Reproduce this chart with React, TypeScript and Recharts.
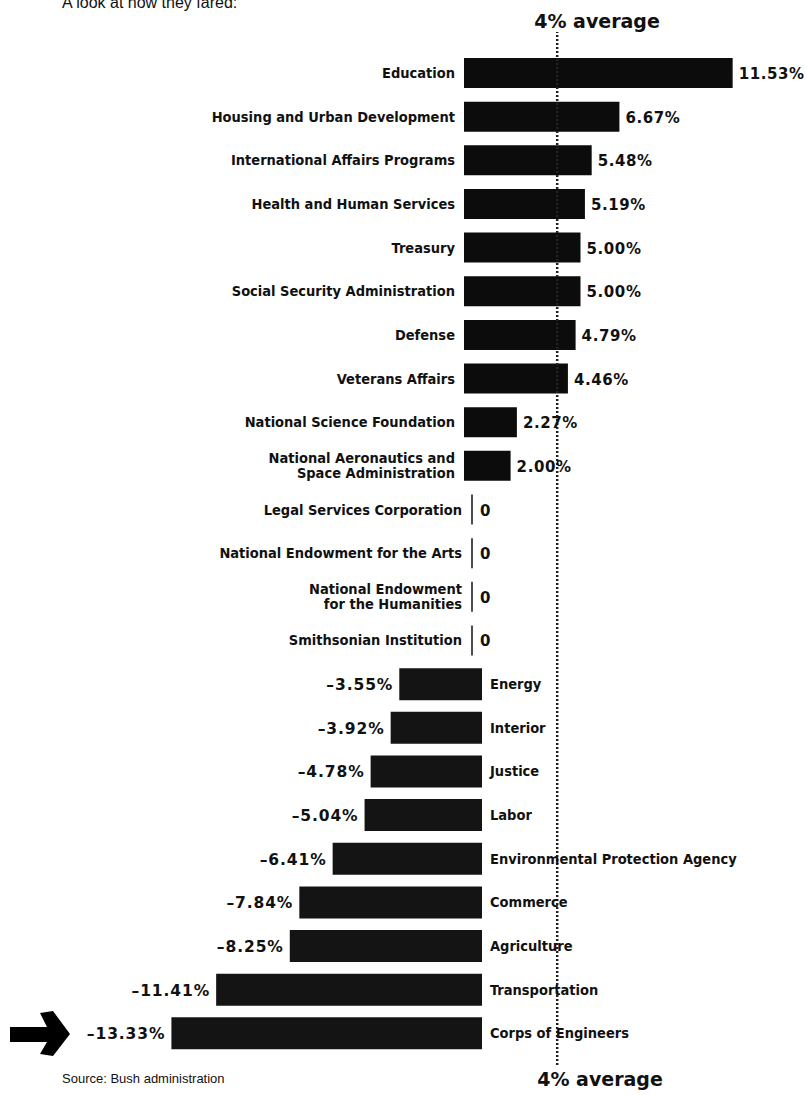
import React from "react"
import { BarChart, Bar, XAxis, YAxis, ReferenceLine, LabelList, Rectangle } from "recharts"

const categories = [
  "Education",
  "Housing and Urban Development",
  "International Affairs Programs",
  "Health and Human Services",
  "Treasury",
  "Social Security Administration",
  "Defense",
  "Veterans Affairs",
  "National Science Foundation",
  "National Aeronautics and\nSpace Administration",
  "Legal Services Corporation",
  "National Endowment for the Arts",
  "National Endowment\nfor the Humanities",
  "Smithsonian Institution",
  "Energy",
  "Interior",
  "Justice",
  "Labor",
  "Environmental Protection Agency",
  "Commerce",
  "Agriculture",
  "Transportation",
  "Corps of Engineers",
]

const changes = [
  11.53, 6.67, 5.48, 5.19, 5.0, 5.0, 4.79, 4.46, 2.27, 2.0,
  0, 0, 0, 0,
  -3.55, -3.92, -4.78, -5.04, -6.41, -7.84, -8.25, -11.41, -13.33,
]

const averageChange = 4

const rows = categories.map((name, i) => ({
  name,
  pos: changes[i] >= 0 ? changes[i] : null,
  neg: changes[i] < 0 ? changes[i] : null,
}))

const W = 807
const H = 1095
const PX_PER_PCT = 23.3
const ZERO_POS = 464 // positive bars grow from here
const ZERO_NEG = 482 // negative bars hang off here

const NAME_FONT = "'DejaVu Sans Condensed', 'DejaVu Sans', sans-serif"
const VALUE_FONT = "'DejaVu Sans', sans-serif"

const fmt = (v: number) =>
  v === 0 ? "0" : v > 0 ? `${v.toFixed(2)}%` : `\u2013${Math.abs(v).toFixed(2)}%`

function box(props: any) {
  const vb = props.viewBox || {}
  const x = Number(vb.x ?? props.x)
  const y = Number(vb.y ?? props.y)
  const w = Number(vb.width ?? props.width ?? 0)
  const h = Number(vb.height ?? props.height ?? 0)
  return { left: Math.min(x, x + w), right: Math.max(x, x + w), cy: y + h / 2 }
}

function NameLines({ x, cy, text, anchor }: { x: number; cy: number; text: string; anchor: "start" | "end" }) {
  const lines = text.split("\n")
  return (
    <text
      x={x}
      y={cy}
      textAnchor={anchor}
      fontFamily={NAME_FONT}
      fontStretch="condensed"
      fontWeight="bold"
      fontSize={14.5}
      fill="#111"
    >
      {lines.map((l, i) => (
        <tspan key={i} x={x} y={cy + (i - (lines.length - 1) / 2) * 15 + 5}>
          {l}
        </tspan>
      ))}
    </text>
  )
}

// zero-change rows: no bar, just a thin rule beside the zero line
function PosShape(props: any) {
  const v = props.payload?.pos
  if (v === 0) {
    const cy = props.y + props.height / 2
    return <line x1={props.x + 8} x2={props.x + 8} y1={cy - 15} y2={cy + 15} stroke="#111" strokeWidth={1.5} />
  }
  return <Rectangle {...props} />
}

function PosLabel(props: any) {
  const idx = categories.indexOf(props.value)
  if (idx < 0) return null
  const v = changes[idx]
  if (v < 0) return null
  const { left, right, cy } = box(props)
  if (!isFinite(left) || !isFinite(cy)) return null
  if (v === 0) {
    return (
      <g>
        <NameLines x={left - 2} cy={cy} text={props.value} anchor="end" />
        <text x={left + 16} y={cy + 6} fontFamily={VALUE_FONT} fontWeight="bold" fontSize={15} fill="#111">
          {fmt(v)}
        </text>
      </g>
    )
  }
  return (
    <g>
      <NameLines x={left - 9} cy={cy} text={props.value} anchor="end" />
      <text x={right + 6} y={cy + 6} fontFamily={VALUE_FONT} fontWeight="bold" fontSize={15} letterSpacing={0.6} fill="#111">
        {fmt(v)}
      </text>
    </g>
  )
}

function NegLabel(props: any) {
  const idx = categories.indexOf(props.value)
  if (idx < 0) return null
  const v = changes[idx]
  if (v >= 0) return null
  const { left, right, cy } = box(props)
  if (!isFinite(left) || !isFinite(cy)) return null
  return (
    <g>
      <text x={left - 6} y={cy + 6} textAnchor="end" fontFamily={VALUE_FONT} fontWeight="bold" fontSize={15.5} letterSpacing={0.9} fill="#111">
        {fmt(v)}
      </text>
      <NameLines x={right + 8} cy={cy} text={props.value} anchor="start" />
    </g>
  )
}

function AvgLabel(props: any) {
  const vb = props.viewBox || {}
  const x = Number(vb.x)
  return (
    <g fontFamily={VALUE_FONT} fontWeight="bold" fontSize={19} fill="#111">
      <text x={x - 23} y={28}>4% average</text>
      <text x={x - 20} y={1086}>4% average</text>
    </g>
  )
}

export default function App() {
  return (
    <div style={{ position: "absolute", left: 0, top: 0, width: W, height: H, background: "#fff" }}>
      <BarChart
        width={W}
        height={H}
        data={rows}
        layout="vertical"
        margin={{ top: 32, right: 0, bottom: 30, left: 0 }}
        barCategoryGap={13}
      >
        <XAxis xAxisId="p" type="number" hide allowDataOverflow domain={[-ZERO_POS / PX_PER_PCT, (W - ZERO_POS) / PX_PER_PCT]} />
        <XAxis xAxisId="n" type="number" hide allowDataOverflow domain={[-ZERO_NEG / PX_PER_PCT, (W - ZERO_NEG) / PX_PER_PCT]} />
        <YAxis yAxisId="p" type="category" dataKey="name" hide padding={{ top: 19, bottom: 10 }} />
        <YAxis yAxisId="n" type="category" dataKey="name" hide padding={{ top: 19, bottom: 10 }} />
        <YAxis yAxisId="r" type="number" hide domain={[0, 1]} />
        <Bar
          dataKey="pos"
          xAxisId="p"
          yAxisId="p"
          fill="#0c0c0c"
          barSize={30}
          minPointSize={1}
          shape={PosShape}
          isAnimationActive={false}
        >
          <LabelList dataKey="name" content={PosLabel} />
        </Bar>
        <Bar dataKey="neg" xAxisId="n" yAxisId="n" fill="#141414" barSize={32} isAnimationActive={false}>
          <LabelList dataKey="name" content={NegLabel} />
        </Bar>
        <ReferenceLine
          x={averageChange}
          xAxisId="p"
          yAxisId="r"
          stroke="#222"
          strokeWidth={2.5}
          strokeDasharray="2 2"
          label={AvgLabel}
        />
      </BarChart>
      <svg width={W} height={H} style={{ position: "absolute", left: 0, top: 0, pointerEvents: "none" }}>
        <text x={62} y={8} fontFamily="'Liberation Sans', Arial, sans-serif" fontSize={16} fill="#111">
          A look at how they fared:
        </text>
        <text x={62} y={1083} fontFamily="'Liberation Sans', Arial, sans-serif" fontSize={13} fill="#111">
          Source: Bush administration
        </text>
        <polygon
          points="10,1027 47,1027 40,1013 53,1011 70,1034 53,1056 40,1054 47,1042 10,1042"
          fill="#000"
        />
      </svg>
    </div>
  )
}
